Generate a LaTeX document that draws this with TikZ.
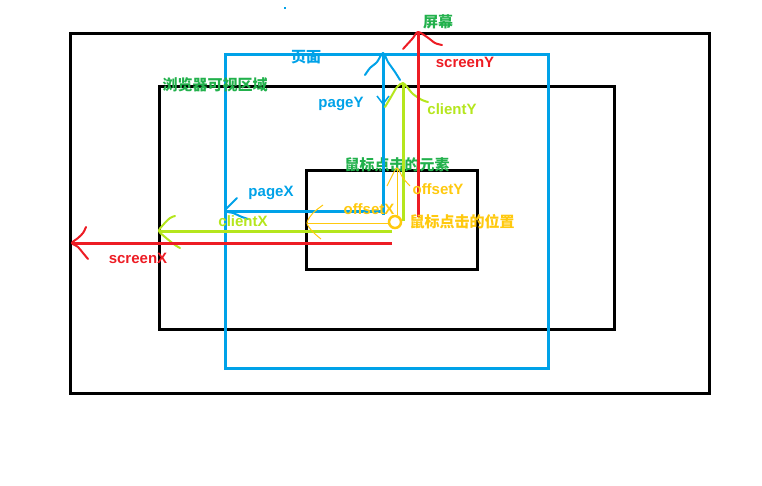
\documentclass[tikz,border=0pt]{standalone}
\usepackage{fontspec}
\setmainfont{Liberation Sans}
\newfontfamily\cjk{Noto Sans CJK SC}
\definecolor{cred}{HTML}{ED1C24}
\definecolor{cblue}{HTML}{00A2E8}
\definecolor{cgreen}{HTML}{22B14C}
\definecolor{clime}{HTML}{B5E61D}
\definecolor{cyel}{HTML}{FFC90E}
\tikzset{
  frame/.style={line width=3pt},
  bigline/.style={line width=3pt},
  headline/.style={line width=2pt, line cap=round, line join=round},
  thinline/.style={line width=1pt},
  lab/.style={font=\fontsize{15}{15}\selectfont\bfseries, inner sep=0pt, anchor=center},
  cjklab/.style={font=\cjk\fontsize{15}{15}\selectfont\bfseries, inner sep=0pt, anchor=center},
}
\begin{document}
\begin{tikzpicture}[x=1pt,y=-1pt]
\useasboundingbox (0,0) rectangle (762,485);
% rectangles
\draw[frame] (70,33) rectangle (709,393);
\draw[frame] (159,86) rectangle (614,329);
\draw[frame] (306,170) rectangle (477,269);
\draw[frame,cblue] (225,54) rectangle (548,368);
\fill[cblue] (284,7) rectangle (286,9);

% labels (under lines)
\node[cjklab,cgreen] (browser) at (215,85) {浏览器可视区域};
\node[cjklab,cgreen] (elem) at (397,165) {鼠标点击的元素};

% coordinates
\coordinate (pyTop) at (383,53);
\coordinate (pyBot) at (383,215);
\coordinate (pxRight) at (383,211);
\coordinate (pxLeft) at (225,211);
\coordinate (cyTop) at (403,83);
\coordinate (cyBot) at (403,221);
\coordinate (cxRight) at (392,231);
\coordinate (cxLeft) at (159,231);
\coordinate (syTop) at (418,32);
\coordinate (syBot) at (418,217);
\coordinate (sxRight) at (392,243);
\coordinate (sxLeft) at (72,243);
\coordinate (oyTop) at (397,168);
\coordinate (oyBot) at (397,215);
\coordinate (oxLeft) at (307,223);
\coordinate (oxRight) at (388,223);
\coordinate (click) at (395,222);

% blue page arrows
\draw[bigline,cblue] (pyBot) -- (pyTop);
\draw[bigline,cblue] (pxRight) -- (pxLeft);
\draw[headline,cblue] plot[smooth] coordinates {(365,75) (370,68) (377,62) (pyTop) (388,62) (395,72) (400,80)};
\draw[headline,cblue] plot[smooth] coordinates {(237,198) (230,205) (pxLeft) (233,213) (242,217) (248,219)};
\draw[line width=1.5pt,cblue] (377,96) -- (383,104) -- (389,96);

% lime client arrows
\draw[bigline,clime] (cyBot) -- (cyTop);
\draw[bigline,clime] (cxRight) -- (cxLeft);
\draw[headline,clime] plot[smooth] coordinates {(385,107) (391,97) (397,87) (cyTop) (407,87) (413,94) (422,100) (428,102)};
\draw[headline,clime] plot[smooth] coordinates {(175,216) (170,218) (163,225) (cxLeft) (165,237) (175,245) (180,248)};

% red screen arrows
\draw[bigline,cred] (syBot) -- (syTop);
\draw[bigline,cred] (sxRight) -- (sxLeft);
\draw[headline,cred] plot[smooth] coordinates {(403,49) (413,38) (syTop) (427,37) (435,43) (442,45)};
\draw[headline,cred] plot[smooth] coordinates {(86,227) (83,233) (78,238) (sxLeft) (78,247) (83,253) (88,259)};

% yellow offset arrows
\draw[thinline,cyel] (oyBot) -- (oyTop);
\draw[thinline,cyel] (oxRight) -- (oxLeft);
\draw[thinline,cyel] plot[smooth] coordinates {(387,186) (392,176) (oyTop) (403,178) (410,186)};
\draw[thinline,cyel] plot[smooth] coordinates {(323,205) (313,213) (oxLeft) (313,232) (321,239)};
\draw[line width=2.5pt,cyel] (click) circle (6);

% labels
\node[cjklab,cgreen] (scr) at (438,22) {屏幕};
\node[cjklab,cblue] (page) at (306,57) {页面};
\node[lab,cred] (sy) at (465,62) {screenY};
\node[lab,cblue] (py) at (341,104) {pageY};
\node[lab,clime] (cy) at (452,109) {clientY};
\node[lab,cyel] (oy) at (438,189) {offsetY};
\node[lab,cyel] (ox) at (369,209) {offsetX};
\node[cjklab,cyel] (pos) at (462,222) {鼠标点击的位置};
\node[lab,cblue] (px) at (271,193) {pageX};
\node[lab,clime] (cx) at (243,221) {clientX};
\node[lab,cred] (sx) at (138,258) {screenX};
\end{tikzpicture}
\end{document}
